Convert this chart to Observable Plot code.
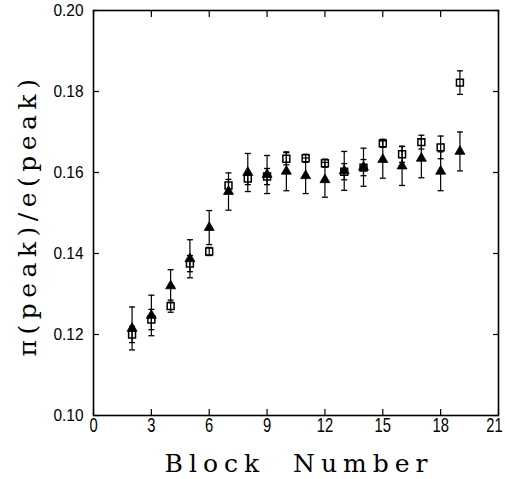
<!DOCTYPE html>
<html>
<head>
<meta charset="utf-8">
<script src="https://cdn.jsdelivr.net/npm/d3@7"></script>
<script src="https://cdn.jsdelivr.net/npm/@observablehq/plot@0.6"></script>
<style>
  html, body { margin: 0; padding: 0; background: #fff; }
  #chart { width: 505px; height: 479px; }
</style>
</head>
<body>
<div id="chart"></div>
<script>
// Block numbers
const blocks = [2, 3, 4, 5, 6, 7, 8, 9, 10, 11, 12, 13, 14, 15, 16, 17, 18, 19];
// Open squares series
const squareValues = [0.1200, 0.1237, 0.1270, 0.1375, 0.1405, 0.1568, 0.1585, 0.1590, 0.1634, 0.1635, 0.1623, 0.1602, 0.1612, 0.1672, 0.1645, 0.1675, 0.1662, 0.1822];
const squareErrors = [0.0020, 0.0025, 0.0015, 0.0020, 0.0010, 0.0015, 0.0015, 0.0020, 0.0015, 0.0010, 0.0010, 0.0020, 0.0020, 0.0010, 0.0020, 0.0017, 0.0028, 0.0029];
// Filled triangles series
const triangleValues = [0.1215, 0.1247, 0.1320, 0.1387, 0.1464, 0.1553, 0.1600, 0.1595, 0.1603, 0.1592, 0.1582, 0.1604, 0.1613, 0.1632, 0.1616, 0.1635, 0.1603, 0.1652];
const triangleErrors = [0.0053, 0.0050, 0.0040, 0.0047, 0.0042, 0.0046, 0.0047, 0.0047, 0.0048, 0.0044, 0.0043, 0.0048, 0.0047, 0.0046, 0.0048, 0.0048, 0.0048, 0.0048];
// Axis ticks and labels
const xTicks = [0, 3, 6, 9, 12, 15, 18, 21];
const yTicks = [0.10, 0.12, 0.14, 0.16, 0.18, 0.20];
const xLabel = "Block  Number";
const yLabel = "\u03c0(peak)/e(peak)";

const squares = blocks.map((b, i) => ({block: b, value: squareValues[i], err: squareErrors[i]}));
const triangles = blocks.map((b, i) => ({block: b, value: triangleValues[i], err: triangleErrors[i]}));

// horizontal cap symbol for error bars
const capSymbol = {
  draw(context, size) {
    const w = Math.sqrt(size) / 2;
    context.moveTo(-w, 0);
    context.lineTo(w, 0);
  }
};

const tickFont = "'Liberation Sans', Arial, sans-serif";
const serif = "'DejaVu Serif', 'Liberation Serif', serif";

const plot = Plot.plot({
  width: 505,
  height: 479,
  marginLeft: 93,
  marginRight: 7,
  marginTop: 10,
  marginBottom: 64,
  style: {background: "#fff", color: "#000", fontFamily: tickFont, overflow: "visible"},
  x: {domain: [0, 21], ticks: xTicks},
  y: {domain: [0.10, 0.20], ticks: yTicks},
  marks: [
    Plot.frame({stroke: "#000", strokeWidth: 1.6}),
    Plot.axisX(xTicks, {anchor: "bottom", tickSize: -6, tickPadding: 8, fontSize: 21, label: null, tickFormat: d => String(d), strokeWidth: 1.2}),
    Plot.axisX(xTicks, {anchor: "top", tickSize: -6, tickFormat: () => "", label: null, strokeWidth: 1.2}),
    Plot.axisY(yTicks, {anchor: "left", tickSize: -6, tickPadding: 16, fontSize: 17, label: null, tickFormat: d => d.toFixed(2), strokeWidth: 1.2}),
    Plot.axisY(yTicks, {anchor: "right", tickSize: -6, tickFormat: () => "", label: null, strokeWidth: 1.2}),
    // error bars: squares
    Plot.ruleX(squares, {x: "block", y1: d => d.value - d.err, y2: d => d.value + d.err, stroke: "#000", strokeWidth: 1.2}),
    Plot.dot(squares, {x: "block", y: d => d.value - d.err, symbol: capSymbol, r: 3.4, stroke: "#000", fill: "none", strokeWidth: 1.3}),
    Plot.dot(squares, {x: "block", y: d => d.value + d.err, symbol: capSymbol, r: 3.4, stroke: "#000", fill: "none", strokeWidth: 1.3}),
    // error bars: triangles
    Plot.ruleX(triangles, {x: "block", y1: d => d.value - d.err, y2: d => d.value + d.err, stroke: "#000", strokeWidth: 1.2}),
    Plot.dot(triangles, {x: "block", y: d => d.value - d.err, symbol: capSymbol, r: 3.4, stroke: "#000", fill: "none", strokeWidth: 1.3}),
    Plot.dot(triangles, {x: "block", y: d => d.value + d.err, symbol: capSymbol, r: 3.4, stroke: "#000", fill: "none", strokeWidth: 1.3}),
    // markers
    Plot.dot(squares, {x: "block", y: "value", symbol: "square", r: 3.9, stroke: "#000", fill: "none", strokeWidth: 1.5}),
    Plot.dot(triangles, {x: "block", y: "value", symbol: "triangle", r: 3.7, fill: "#000", stroke: "#000", strokeWidth: 0.8}),
    // axis titles
    Plot.text([xLabel], {text: d => d, frameAnchor: "bottom", textAnchor: "middle", lineAnchor: "middle", dy: 48, dx: 3, fontSize: 25, fontFamily: serif, fill: "#000"}),
    Plot.text([yLabel], {text: d => d, frameAnchor: "left", textAnchor: "middle", lineAnchor: "middle", dx: -66, dy: 2, rotate: -90, fontSize: 25, fontFamily: serif, fill: "#000"})
  ]
});

// widen letter spacing of the serif titles as in the reference
d3.select(plot).selectAll("text").filter(function () {
  return this.textContent === xLabel;
}).style("letter-spacing", "6px").style("white-space", "pre");
d3.select(plot).selectAll("text").filter(function () {
  return this.textContent === yLabel;
}).style("letter-spacing", "5.5px");

// narrow, tall tick digits as in the reference
d3.select(plot).selectAll('g[aria-label="x-axis tick label"] text').each(function () {
  const n = this.textContent.length;
  if (n > 0) d3.select(this).attr("textLength", n * 8.2).attr("lengthAdjust", "spacingAndGlyphs");
  if (this.textContent === "21") d3.select(this).attr("dx", -4);
});
d3.select(plot).selectAll('g[aria-label="y-axis tick label"] text').each(function () {
  const n = this.textContent.length;
  if (n > 0) d3.select(this).attr("textLength", 30).attr("lengthAdjust", "spacingAndGlyphs");
});

document.getElementById("chart").appendChild(plot);
</script>
</body>
</html>
